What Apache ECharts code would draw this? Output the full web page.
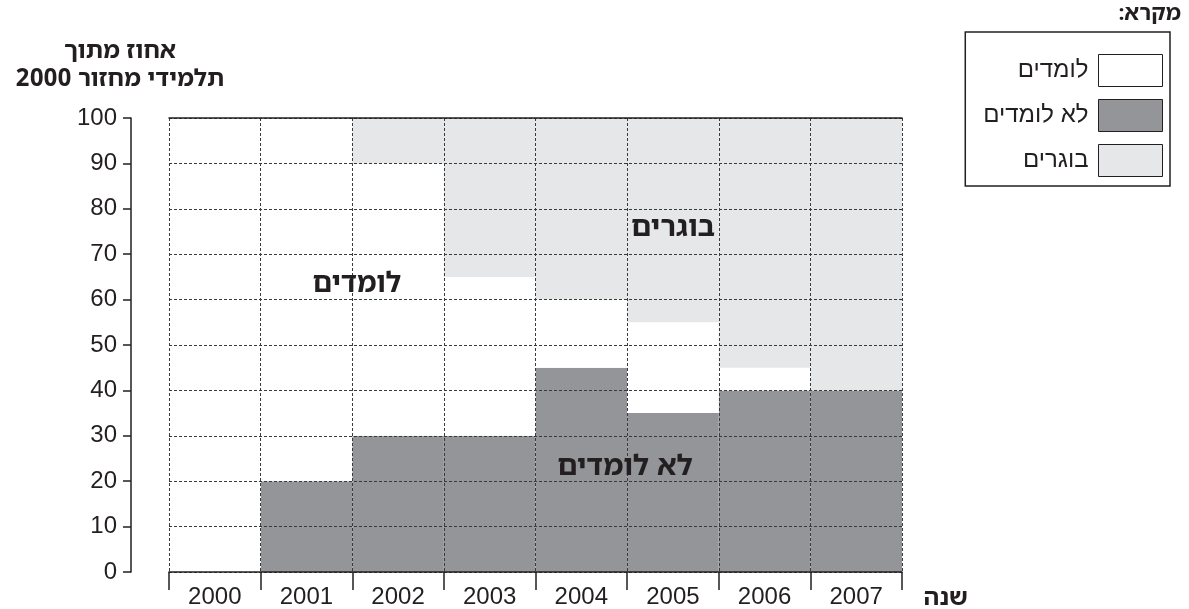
<!DOCTYPE html>
<html>
<head>
<meta charset="utf-8">
<script src="https://cdn.jsdelivr.net/npm/echarts@6/dist/echarts.min.js"></script>
<style>
html,body{margin:0;padding:0;background:#fff;}
#c{width:1189px;height:609px;}
</style>
</head>
<body>
<div id="c"></div>
<script>
// ---- data ----
var years = ['2000','2001','2002','2003','2004','2005','2006','2007'];
var notLearning = [0, 20, 30, 30, 45, 35, 40, 40];   // לא לומדים
var learning    = [100, 80, 60, 35, 15, 20, 5, 0];   // לומדים
var graduates   = [0, 0, 10, 35, 40, 45, 55, 60];    // בוגרים
var seriesNames = ['לומדים', 'לא לומדים', 'בוגרים'];

var FONT = '"Liberation Sans", Arial, "DejaVu Sans", sans-serif';
var BFONT = '"Noto Sans Hebrew", "Liberation Sans", Arial, sans-serif';
var INK = '#231f20';
var DARK = '#939598';
var LIGHT = '#e6e7e8';
var dash = {color: '#3a3a3a', width: 1, type: [3, 2]};

function label(text, x, y, size, align) {
  return {type: 'text', z: 20, style: {
    text: text, x: x, y: y, align: align || 'center', verticalAlign: 'middle',
    fontSize: size, fontWeight: 'bold', fontFamily: BFONT, fill: INK
  }};
}

var chart = echarts.init(document.getElementById('c'), null, {renderer: 'canvas'});
chart.setOption({
  animation: false,
  backgroundColor: '#fff',
  textStyle: {fontFamily: FONT},
  grid: {left: 169, right: 287, top: 118, bottom: 35, containLabel: false},
  legend: {
    data: seriesNames,
    orient: 'vertical',
    align: 'right',
    right: 19,
    top: 32,
    itemWidth: 64,
    itemHeight: 32,
    itemGap: 12,
    padding: [22, 7, 9, 18],
    borderColor: INK,
    borderWidth: 1.5,
    borderRadius: 0,
    icon: 'rect',
    itemStyle: {borderColor: INK, borderWidth: 1},
    textStyle: {fontSize: 24, color: INK, fontFamily: FONT, padding: [0, 5, 0, 0]},
    selectedMode: false
  },
  xAxis: [{
    type: 'category',
    data: years,
    boundaryGap: true,
    z: 10,
    axisLine: {show: true, lineStyle: {color: INK, width: 1.5}},
    axisTick: {show: true, length: 18, inside: false, interval: 0, lineStyle: {color: INK, width: 1.5}},
    axisLabel: {fontSize: 24, color: INK, margin: 13, interval: 0, fontFamily: FONT},
    splitLine: {show: true, interval: 0, lineStyle: dash}
  }, {
    type: 'category',
    data: years,
    position: 'top',
    z: 10,
    axisLine: {show: true, lineStyle: {color: INK, width: 1.5}},
    axisTick: {show: false},
    axisLabel: {show: false},
    splitLine: {show: false}
  }],
  yAxis: {
    type: 'value',
    min: 0, max: 100, interval: 10,
    offset: 38,
    z: 10,
    axisLine: {show: true, lineStyle: {color: INK, width: 1.5}},
    axisTick: {show: true, length: 8, inside: false, lineStyle: {color: INK, width: 1.5}},
    axisLabel: {fontSize: 24, color: INK, margin: 14, fontFamily: FONT},
    splitLine: {show: true, lineStyle: dash}
  },
  series: [{
    name: 'לא לומדים', type: 'bar', stack: 'total', data: notLearning,
    barCategoryGap: '0%', barGap: '0%', z: 2,
    itemStyle: {color: DARK}
  }, {
    name: 'לומדים', type: 'bar', stack: 'total', data: learning,
    barCategoryGap: '0%', barGap: '0%', z: 2,
    itemStyle: {color: '#ffffff'}
  }, {
    name: 'בוגרים', type: 'bar', stack: 'total', data: graduates,
    barCategoryGap: '0%', barGap: '0%', z: 2,
    itemStyle: {color: LIGHT}
  }],
  graphic: [
    label('אחוז מתוך', 120, 51, 24),
    label('תלמידי מחזור 2000', 120, 79, 24),
    label(':מקרא', 1181, 14, 22, 'right'),
    label('שנה', 968, 598, 24, 'right'),
    label('לומדים', 357, 284, 28),
    label('בוגרים', 673, 228, 29),
    label('לא לומדים', 625, 467, 29)
  ]
});
</script>
</body>
</html>
